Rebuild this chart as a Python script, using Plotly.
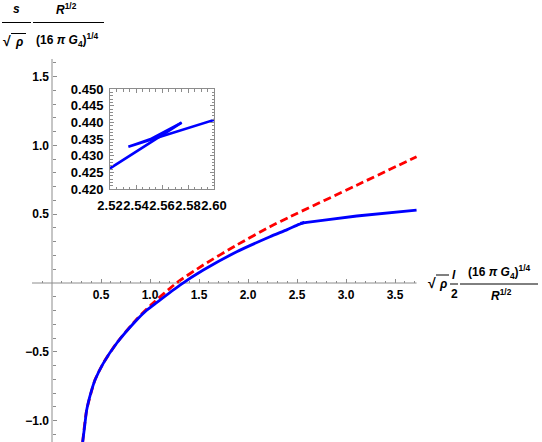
import plotly.graph_objects as go
import numpy as np

# ---- data ----
blue_x = [0.313, 0.335, 0.354, 0.40, 0.439, 0.523, 0.66, 0.864, 0.966, 1.068, 1.306, 1.544, 1.885, 2.224, 2.40, 2.52, 2.5751]
blue_y = [-1.156, -1.03, -0.923, -0.79, -0.705, -0.584, -0.438, -0.269, -0.198, -0.142, -0.015, 0.094, 0.227, 0.336, 0.388, 0.4262, 0.4399]
tail_x = [2.5751, 2.562, 2.5508, 2.542, 2.5341, 2.5574, 2.60, 2.80, 3.11, 3.72]
tail_y = [0.4399, 0.4372, 0.4349, 0.4337, 0.4327, 0.4355, 0.4407, 0.458, 0.487, 0.53]
red_x = [0.313, 0.354, 0.439, 0.523, 0.66, 0.864, 1.017, 1.27, 1.544, 1.885, 2.224, 2.43, 3.11, 3.72]
red_y = [-1.155, -0.922, -0.704, -0.583, -0.436, -0.263, -0.155, 0.0, 0.131, 0.276, 0.409, 0.482, 0.711, 0.918]

x_major = [0.5, 1.0, 1.5, 2.0, 2.5, 3.0, 3.5]
x_major_text = ["0.5", "1.0", "1.5", "2.0", "2.5", "3.0", "3.5"]
y_major = [-1.0, -0.5, 0.5, 1.0, 1.5]
y_major_text = ["\u22121.0", "\u22120.5", "0.5", "1.0", "1.5"]
inset_x_major = [2.52, 2.54, 2.56, 2.58, 2.60]
inset_x_text = ["2.52", "2.54", "2.56", "2.58", "2.60"]
inset_y_major = [0.420, 0.425, 0.430, 0.435, 0.440, 0.445, 0.450]
inset_y_text = ["0.420", "0.425", "0.430", "0.435", "0.440", "0.445", "0.450"]

W, H = 542, 442
X0PX, XSC = 52.0, 98.0
Y0PX, YSC = 283.0, 137.6
xr = [-X0PX / XSC, (W - X0PX) / XSC]
yr = [(Y0PX - H) / YSC, Y0PX / YSC]

def px(x):
    return x / W
def py(y):
    return 1 - y / H

x_minor = [round(v, 2) for v in np.arange(-0.1, 3.75, 0.1) if all(abs(v - m) > 1e-6 for m in x_major) and abs(v) > 1e-6]
y_minor = [round(v, 2) for v in np.arange(-1.1, 1.65, 0.1) if all(abs(v - m) > 1e-6 for m in y_major) and abs(v) > 1e-6]
ix_minor = [round(v, 4) for v in np.arange(2.52, 2.6001, 0.005)]
iy_minor = [round(v, 4) for v in np.arange(0.42, 0.4501, 0.001)]

BLUE = "#0000ff"
RED = "#ff0000"
GREY = "#8c8c8c"
FONT = "Liberation Sans"

fig = go.Figure()
fig.add_trace(go.Scatter(x=red_x, y=red_y, mode="lines", line=dict(color=RED, width=2.8, dash="8px,4px", shape="spline", smoothing=0.6), xaxis="x", yaxis="y"))
fig.add_trace(go.Scatter(x=blue_x, y=blue_y, mode="lines", line=dict(color=BLUE, width=2.8, shape="spline", smoothing=0.6), xaxis="x", yaxis="y"))
fig.add_trace(go.Scatter(x=tail_x, y=tail_y, mode="lines", line=dict(color=BLUE, width=2.8), xaxis="x", yaxis="y"))
# inset
fig.add_trace(go.Scatter(x=blue_x, y=blue_y, mode="lines", line=dict(color=BLUE, width=2.6), xaxis="x2", yaxis="y2", cliponaxis=True))
fig.add_trace(go.Scatter(x=tail_x, y=tail_y, mode="lines", line=dict(color=BLUE, width=2.6), xaxis="x2", yaxis="y2", cliponaxis=True))

tickfont = dict(family=FONT, size=12, color="black", weight="bold")
insetfont = dict(family=FONT, size=13, color="black", weight="bold")

fig.update_layout(
    width=W, height=H, autosize=False,
    margin=dict(l=0, r=0, t=0, b=0, pad=0, autoexpand=False),
    paper_bgcolor="white", plot_bgcolor="rgba(0,0,0,0)",
    showlegend=False,
    xaxis=dict(domain=[0, 1], range=xr, anchor="free", position=py(Y0PX), side="bottom",
               showline=False, showgrid=False, zeroline=False, automargin=False,
               ticks="inside", ticklen=4, tickwidth=1, tickcolor=GREY,
               tickmode="array", tickvals=x_major, ticktext=x_major_text, tickfont=tickfont,
               ticklabelstandoff=3, tickangle=0,
               minor=dict(tickmode="array", tickvals=x_minor, ticks="inside", ticklen=2.5, tickcolor=GREY, showgrid=False)),
    yaxis=dict(domain=[0, 1], range=yr, anchor="free", position=px(X0PX), side="left",
               showline=False, showgrid=False, zeroline=False, automargin=False,
               ticks="inside", ticklen=4, tickwidth=1, tickcolor=GREY,
               tickmode="array", tickvals=y_major, ticktext=y_major_text, tickfont=tickfont,
               ticklabelstandoff=3,
               minor=dict(tickmode="array", tickvals=y_minor, ticks="inside", ticklen=2.5, tickcolor=GREY, showgrid=False)),
    xaxis2=dict(domain=[px(110), px(214)], range=[2.52, 2.60], anchor="y2",
                showline=True, linecolor=GREY, linewidth=1, mirror="allticks",
                showgrid=False, zeroline=False, automargin=False,
                ticks="inside", ticklen=4, tickcolor=GREY,
                tickmode="array", tickvals=inset_x_major, ticktext=inset_x_text, tickfont=insetfont,
                ticklabelstandoff=4, tickangle=0,
                minor=dict(tickmode="array", tickvals=ix_minor, ticks="inside", ticklen=2.5, tickcolor=GREY, showgrid=False)),
    yaxis2=dict(domain=[py(189), py(89)], range=[0.42, 0.45], anchor="x2",
                showline=True, linecolor=GREY, linewidth=1, mirror="allticks",
                showgrid=False, zeroline=False, automargin=False,
                ticks="inside", ticklen=4, tickcolor=GREY,
                tickmode="array", tickvals=inset_y_major, ticktext=inset_y_text, tickfont=insetfont,
                ticklabelstandoff=3,
                minor=dict(tickmode="array", tickvals=iy_minor, ticks="inside", ticklen=2.5, tickcolor=GREY, showgrid=False)),
)

shapes = []
# main axis lines
shapes.append(dict(type="line", xref="x", yref="y", x0=-0.204, x1=3.72, y0=0, y1=0, line=dict(color=GREY, width=1), layer="below"))
shapes.append(dict(type="line", xref="x", yref="y", x0=0, x1=0, y0=yr[0], y1=1.628, line=dict(color=GREY, width=1), layer="below"))

def hline(x0, x1, y, w=1):
    shapes.append(dict(type="line", xref="paper", yref="paper", x0=px(x0), x1=px(x1), y0=py(y), y1=py(y), line=dict(color="black", width=w)))

annotations = []
def label(text, x, y, size=12, xanchor="center"):
    annotations.append(dict(text=text, xref="paper", yref="paper", x=px(x), y=py(y), showarrow=False,
                            xanchor=xanchor, yanchor="middle", font=dict(family=FONT, size=size, color="black", weight="bold")))

# y-axis label (top-left)
label("<i>s</i>", 16, 9)
hline(2, 31, 22.5)
label("\u221a", 7, 41, size=14)
label("<i>\u03c1</i>", 19, 42)
hline(11, 26, 33.5)
label("<i>R</i><sup>1/2</sup>", 66, 9)
hline(33, 104, 22.5)
label("(16 <i>\u03c0</i> <i>G</i><sub>4</sub>)<sup>1/4</sup>", 67, 40)

# x-axis label (right)
label("\u221a", 432, 283, size=14)
label("<i>\u03c1</i>", 443, 284)
hline(436, 449, 275)
label("<i>l</i>", 454, 275)
label("2", 454, 294)
hline(450, 458, 284)
label("(16 <i>\u03c0</i> <i>G</i><sub>4</sub>)<sup>1/4</sup>", 499, 272)
hline(460, 538, 284)
label("<i>R</i><sup>1/2</sup>", 501, 295)

fig.update_layout(shapes=shapes, annotations=annotations)
fig.write_html("out.html",
               post_script="document.body.style.margin='0';document.body.style.overflow='hidden';")
